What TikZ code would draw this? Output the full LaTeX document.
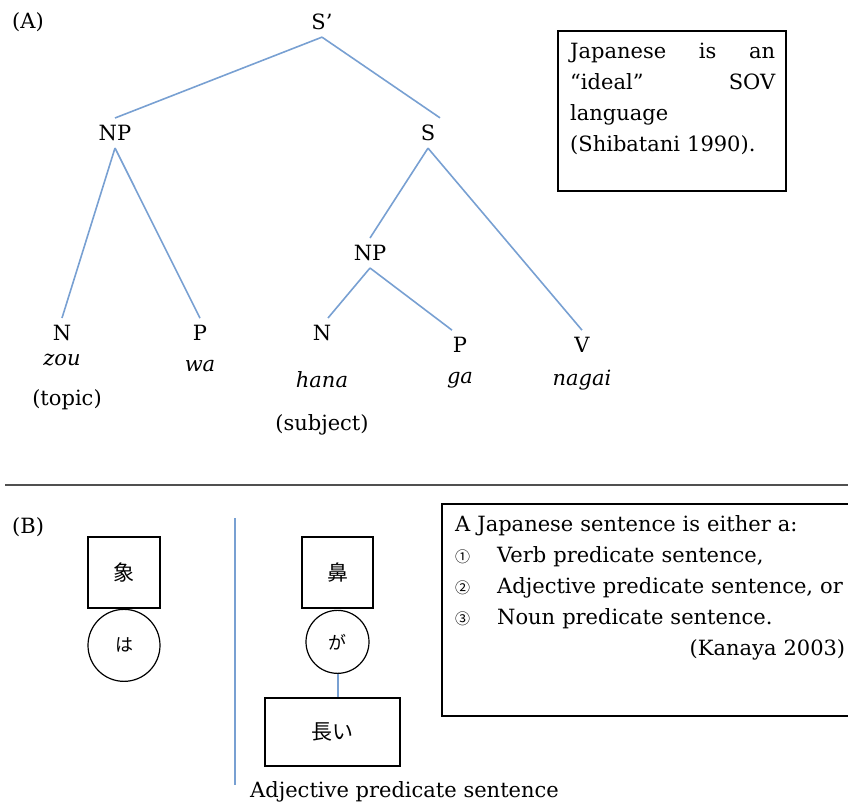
\documentclass[tikz,border=0pt]{standalone}
\usepackage{fontspec}
\usepackage{xcolor}
\usepackage{tikz}
\usetikzlibrary{positioning}
\setmainfont{DejaVu Serif}
\newfontfamily\cjk{Noto Sans CJK JP}
\definecolor{treeblue}{RGB}{120, 160, 210}
\definecolor{rulegray}{RGB}{80, 80, 80}

\begin{document}
\begin{tikzpicture}[x=1pt, y=-1pt,
		every node/.style={font=\fontsize{21}{31}\selectfont},
		tag/.style={inner sep=7pt},
		word/.style={inner sep=0pt, font=\fontsize{21}{31}\selectfont\itshape},
		branch/.style={treeblue, line width=1.6pt},
		jbox/.style={rectangle, draw=black, line width=1.5pt, inner sep=0pt, font=\fontsize{21}{21}\selectfont\cjk},
		jcirc/.style={circle, draw=black, line width=1.2pt, inner sep=0pt, font=\fontsize{18}{18}\selectfont\cjk}]
				\useasboundingbox (0,0) rectangle (848,804);
				% (A) tree
				\node[anchor=west, inner sep=0pt] (labA) at (12,22) {(A)};
				\node[tag] (sp) at (322,22) {S'};
				\node[tag] (np1) at (115,133) {NP};
				\node[tag] (s) at (428,133) {S};
				\node[tag] (np2) at (370,253) {NP};
				\node[tag] (n1) at (62,333) {N};
				\node[tag] (p1) at (200,333) {P};
				\node[tag] (n2) at (322,333) {N};
				\node[tag] (p2) at (460,345) {P};
				\node[tag] (v) at (582,345) {V};
				\node[word] (zou) at (62,360) {zou};
				\node[inner sep=0pt] (topic) at (67,400) {(topic)};
				\node[word] (wa) at (200,366) {wa};
				\node[word] (hana) at (322,380) {hana};
				\node[inner sep=0pt] (subj) at (322,425) {(subject)};
				\node[word] (ga) at (460,380) {ga};
				\node[word] (nagai) at (582,380) {nagai};
				
				\draw[branch] (sp.south) -- (np1.north);
				\draw[branch] (sp.south) -- ([xshift=12pt]s.north);
				\draw[branch] (np1.south) -- (n1.north);
				\draw[branch] (np1.south) -- (p1.north);
				\draw[branch] (s.south) -- (np2.north);
				\draw[branch] (s.south) -- (v.north);
				\draw[branch] (np2.south) -- ([xshift=6pt]n2.north);
				\draw[branch] (np2.south) -- ([xshift=-8pt]p2.north);
				
				\node[draw, line width=1.5pt, minimum width=228pt, minimum height=160pt, anchor=north west] (sovbox) at (557,30) {};
				\node[anchor=north west, inner sep=0pt, text width=205pt, align=left] (sovtext) at (570,43) {Japanese \hfill is \hfill an\\``ideal'' \hfill SOV\\language\\(Shibatani 1990).};
				
				% separator
				\draw[rulegray, line width=2.5pt] (5,485) -- (848,485);
				
				% (B) dependency boxes
				\node[anchor=west, inner sep=0pt] (labB) at (12,527) {(B)};
				\node[jbox, minimum width=72pt, minimum height=71pt] (zoubox) at (124,572.5) {象};
				\node[jcirc, minimum size=72pt, below=0pt of zoubox] (wacirc) {は};
				\draw[treeblue, line width=1.6pt] (235,518) -- (235,785);
				\node[jbox, minimum width=71pt, minimum height=71pt] (hanabox) at (337.5,572.5) {鼻};
				\node[jcirc, minimum size=63pt, below=1pt of hanabox] (gacirc) {が};
				\node[jbox, minimum width=135pt, minimum height=68pt, anchor=north] (nagaibox) at (332.5,697) {長い};
				\draw[branch, line width=2pt] (gacirc.south) -- (gacirc.south |- nagaibox.north);
				\node[anchor=west, inner sep=0pt] (adjlabel) at (250,792) {Adjective predicate sentence};
				
				\node[draw, line width=1.5pt, minimum width=410pt, minimum height=212pt, anchor=north west] (kanayabox) at (441,503) {};
				\node[anchor=north west, inner sep=0pt, text width=390pt, align=left] (kanayatext) at (455,515) {A Japanese sentence is either a:\\
					\makebox[42pt][l]{\fontsize{15}{15}\selectfont\cjk ①}Verb predicate sentence,\\
					\makebox[42pt][l]{\fontsize{15}{15}\selectfont\cjk ②}Adjective predicate sentence, or\\
					\makebox[42pt][l]{\fontsize{15}{15}\selectfont\cjk ③}Noun predicate sentence.\\
					\hfill(Kanaya 2003)\hspace*{10pt}};
			\end{tikzpicture}
\end{document}
